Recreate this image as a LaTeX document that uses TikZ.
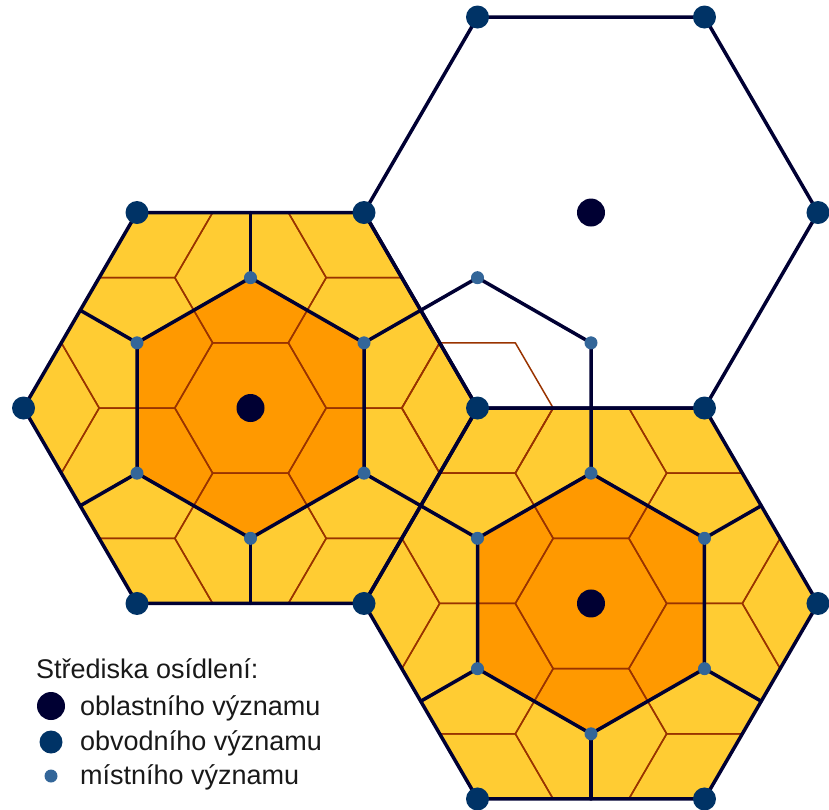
\documentclass[tikz,border=0pt]{standalone}
\usepackage{fontspec}
\setmainfont{Liberation Sans}
\definecolor{navy}{HTML}{000033}
\definecolor{obv}{HTML}{003366}
\definecolor{mist}{HTML}{336699}
\definecolor{hexyellow}{HTML}{FFCC33}
\definecolor{hexorange}{HTML}{FF9900}
\definecolor{brownline}{HTML}{993300}
\begin{document}
\begin{tikzpicture}[x=1pt,y=-1pt,
  thickline/.style={draw=navy, line width=3.5pt, line join=round, line cap=round},
  thinline/.style={draw=brownline, line width=1.5pt, line join=round},
  oblastni/.style={circle, fill=navy, inner sep=0pt, minimum size=28pt},
  obvodni/.style={circle, fill=obv, inner sep=0pt, minimum size=23pt},
  mistni/.style={circle, fill=mist, inner sep=0pt, minimum size=13pt},
  legtext/.style={anchor=base west, inner sep=0pt, font=\fontsize{27}{32}\selectfont, text=black!90}
]
\useasboundingbox (0,0) rectangle (829,809);

\begin{scope}[shift={(250.5,408)}, xscale=0.9956, yscale=0.990]
  % key points of the three big hexagons
  \foreach \n/\cx/\cy in {A/0/0, B/342/197.454, C/342/-197.454} {
    \coordinate (\n-c) at (\cx,\cy);
    \foreach \k in {0,...,5} {
      \coordinate (\n-v\k) at ({\cx+228*cos(\k*60)}, {\cy+228*sin(\k*60)});
      \coordinate (\n-d\k) at ({\cx+131.636*cos(30+\k*60)}, {\cy+131.636*sin(30+\k*60)});
      \coordinate (\n-m\k) at ({\cx+197.454*cos(30+\k*60)}, {\cy+197.454*sin(30+\k*60)});
    }
  }

  % coloured areas and small hexagon lattice
  \begin{scope}
    \clip (A-v0) -- (A-v1) -- (A-v2) -- (A-v3) -- (A-v4) -- (A-v5) -- cycle
          (B-v0) -- (B-v1) -- (B-v2) -- (B-v3) -- (B-v4) -- (B-v5) -- cycle;
    \fill[hexyellow] (-300,-300) rectangle (700,500);
    \fill[hexorange] (A-d0) -- (A-d1) -- (A-d2) -- (A-d3) -- (A-d4) -- (A-d5) -- cycle;
    \fill[hexorange] (B-d0) -- (B-d1) -- (B-d2) -- (B-d3) -- (B-d4) -- (B-d5) -- cycle;
    \foreach \i in {-3,...,6} {
      \foreach \j in {-6,...,6} {
        \pgfmathsetmacro\hx{\i*114}
        \pgfmathsetmacro\hy{\i*65.818+\j*131.636}
        \draw[thinline] (\hx+76,\hy) -- (\hx+38,\hy+65.818) -- (\hx-38,\hy+65.818)
          -- (\hx-76,\hy) -- (\hx-38,\hy-65.818) -- (\hx+38,\hy-65.818) -- cycle;
      }
    }
  \end{scope}
  % full small hexagon round the shared vertex
  \draw[thinline] (304,0) -- (266,65.818) -- (190,65.818) -- (152,0)
    -- (190,-65.818) -- (266,-65.818) -- cycle;

  % thick boundaries
  \foreach \n in {A,B,C} {
    \draw[thickline] (\n-v0) -- (\n-v1) -- (\n-v2) -- (\n-v3) -- (\n-v4) -- (\n-v5) -- cycle;
  }
  \foreach \n in {A,B} {
    \draw[thickline] (\n-d0) -- (\n-d1) -- (\n-d2) -- (\n-d3) -- (\n-d4) -- (\n-d5) -- cycle;
  }
  \draw[thickline] (A-d5) -- (C-d2) -- (C-d1) -- (B-d4);
  \draw[thickline] (A-d0) -- (B-d3);
  \foreach \k in {1,2,3,4} { \draw[thickline] (A-d\k) -- (A-m\k); }
  \foreach \k in {0,1,2,5} { \draw[thickline] (B-d\k) -- (B-m\k); }

  % settlements
  \foreach \n in {A,B,C} { \node[oblastni] (ob-\n) at (\n-c) {}; }
  \foreach \p in {A-v0,A-v1,A-v2,A-v3,A-v4,A-v5,B-v0,B-v1,B-v2,B-v5,C-v0,C-v4,C-v5} {
    \node[obvodni] (ov-\p) at (\p) {};
  }
  \foreach \p in {A-d0,A-d1,A-d2,A-d3,A-d4,A-d5,B-d0,B-d1,B-d2,B-d3,B-d4,B-d5,C-d1,C-d2} {
    \node[mistni] (mi-\p) at (\p) {};
  }
\end{scope}

% legend
\node[legtext] (leg-title) at (36,678) {Střediska osídlení:};
\node[oblastni] (leg-o) at (51,706) {};
\node[legtext] (leg-ot) at (80,715) {oblastního významu};
\node[obvodni] (leg-v) at (51,742) {};
\node[legtext] (leg-vt) at (80,750) {obvodního významu};
\node[mistni] (leg-m) at (51,776) {};
\node[legtext] (leg-mt) at (80,784) {místního významu};
\end{tikzpicture}
\end{document}
